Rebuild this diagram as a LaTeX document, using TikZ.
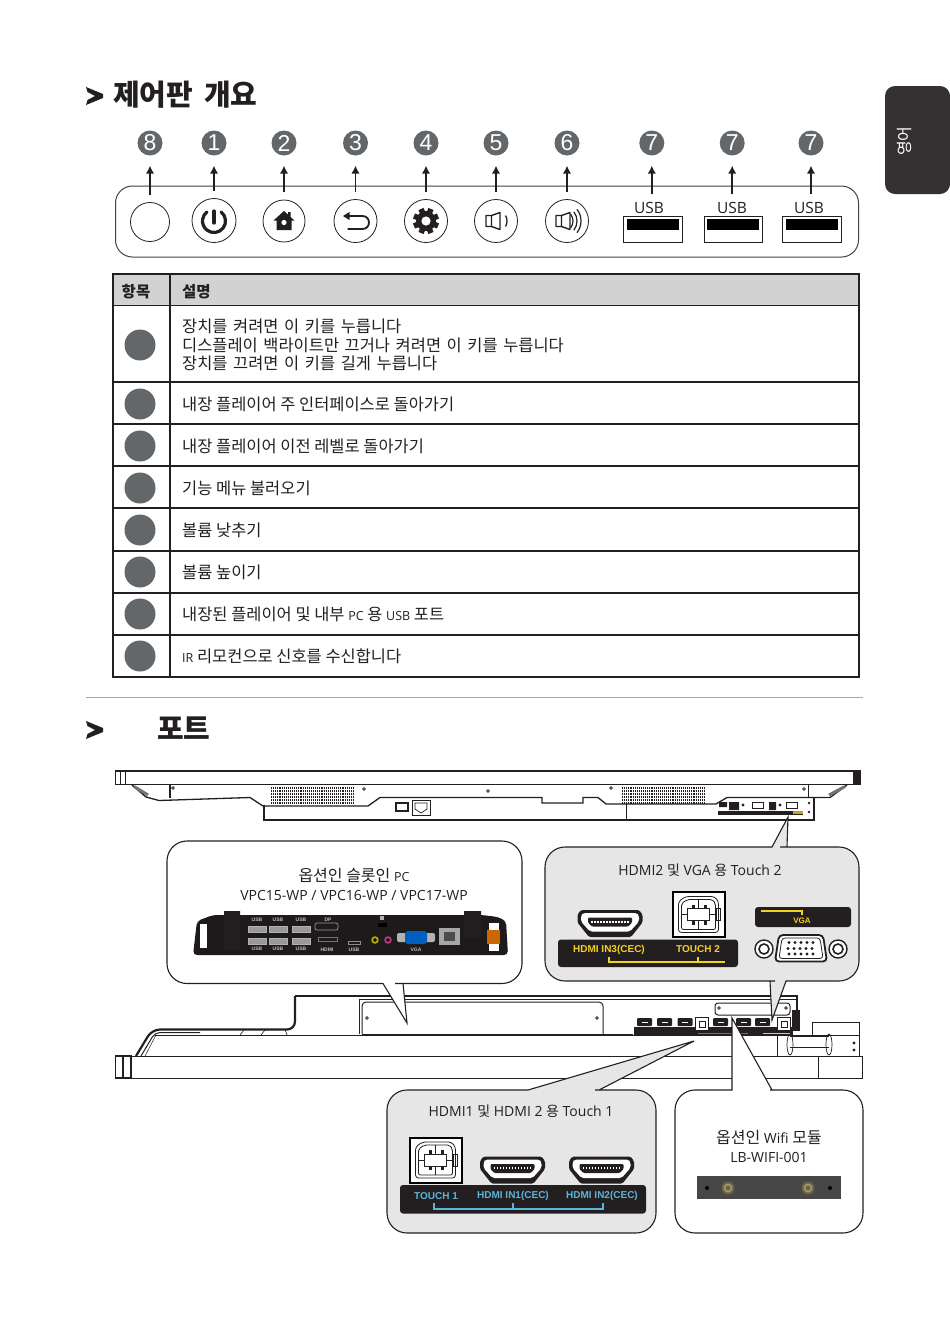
\documentclass[tikz,border=0pt]{standalone}
\usepackage{fontspec}
\setmainfont{Open Sans}
\newfontfamily\krfont{Noto Sans CJK KR}
\newfontfamily\arialfont{Liberation Sans}
\usetikzlibrary{positioning,arrows.meta}
\definecolor{inkc}{HTML}{231F20}
\definecolor{badgec}{HTML}{63676A}
\definecolor{calloutc}{HTML}{E6E6E6}
\definecolor{headc}{HTML}{D2D2D2}
\definecolor{bluec}{HTML}{5BB4DC}
\definecolor{yellowc}{HTML}{F5D11E}
\definecolor{brassA}{HTML}{6E6248}
\definecolor{brassB}{HTML}{A3956E}
\newcommand{\lat}[1]{{\normalfont\fontsize{12.5}{13}\selectfont #1}}
\newcommand{\kr}[1]{{\krfont #1}}

\tikzset{
  chevron/.pic={\fill[inkc] (0,0) -- (17,7) -- (17,11) -- (0,18) -- (1.5,13) -- (9,9) -- (1.5,5) -- cycle;},
  screw/.pic={\fill[inkc] (0,0) circle (1.8); \fill[white] (0,0) circle (0.6);},
  hdmiport/.pic={
    \fill[inkc, rounded corners=1.5] (-29,-13.5) -- (29,-13.5) -- (32.5,-9) -- (32.5,-1) -- (21,13.5) -- (-21,13.5) -- (-32.5,-1) -- (-32.5,-9) -- cycle;
    \fill[white, rounded corners=2] (-27,-10.5) -- (27,-10.5) -- (29,-8) -- (29,-2) -- (20,8) -- (-20,8) -- (-29,-2) -- (-29,-8) -- cycle;
    \fill[inkc, rounded corners=1] (-22,-6) -- (22,-6) -- (22,-1) -- (18,3) -- (-18,3) -- (-22,-1) -- cycle;
    \foreach \i in {-18,-15,...,18} \fill[white] (\i-0.6,-2.6) rectangle (\i+0.6,-0.8);
  },
  usbport/.pic={
    \draw[white, fill=white] (-26,-22.5) rectangle (26,22.5);
    \draw[black, line width=2] (-26,-22.5) rectangle (26,22.5);
    \draw[inkc, line width=.8, rounded corners=3] (-13,-18) -- (16,-18) -- (20,-13) -- (20,18) -- (-20,18) -- (-20,-13) -- cycle;
    \draw[inkc, line width=.8, rounded corners=2] (-11,-15) -- (14,-15) -- (17,-11) -- (17,15) -- (-17,15) -- (-17,-11) -- cycle;
    \draw[inkc, line width=.8] (0,-15) -- (0,15) (-17,0) -- (17,0);
    \fill[white, draw=inkc, line width=.9] (-11,-6) rectangle (11,6);
    \foreach \i in {-7,5} {\fill[inkc] (\i,-10) rectangle (\i+3.5,-6); \fill[inkc] (\i,6) rectangle (\i+3.5,10);}
    \draw[inkc, line width=.6] (18,-6) rectangle (22,6);
  },
  vgaport/.pic={
    \draw[inkc, line width=1.4, fill=white] (-37,0) circle (9);
    \draw[inkc, line width=1.4, fill=white] (37,0) circle (9);
    \draw[inkc, line width=1.6, fill=white] (-37,0) circle (5) (37,0) circle (5);
    \draw[inkc, line width=1.8, fill=white, rounded corners=4] (-22,-14) -- (22,-14) -- (26,12.5) -- (-26,12.5) -- cycle;
    \draw[inkc, line width=.8, rounded corners=3] (-19,-11) -- (19,-11) -- (22,9.5) -- (-22,9.5) -- cycle;
    \foreach \i in {-12,-6,...,12} {\fill[inkc] (\i,-6.5) circle (1.7); \fill[inkc] (\i-1,-0.5) circle (1.7); \fill[inkc] (\i,5) circle (1.7);}
  },
  miniport/.pic={\fill[inkc, rounded corners=1] (-7.5,-3) rectangle (7.5,5); \fill[white] (-3,1) rectangle (3,1.8);},
  miniusb/.pic={\draw[inkc, line width=1.1, fill=white] (-6.5,-6.5) rectangle (6.5,7); \draw[inkc, line width=.7] (-3,-3) rectangle (3,3);},
  homeicon/.pic={
    \fill[inkc] (0,-10) -- (4,-6.5) -- (4,-9) -- (6.5,-9) -- (6.5,-4) -- (10.5,-0.5) -- (7.5,-0.5) -- (7.5,9) -- (-7.5,9) -- (-7.5,-0.5) -- (-10.5,-0.5) -- cycle;
    \fill[white] (0,1.5) circle (2.6);
  },
  backicon/.pic={
    \draw[inkc, line width=1.8] (-9,-5) -- (7,-5) to[out=0,in=0,looseness=1.7] (7,8) -- (-8,8);
    \fill[inkc] (-12.5,-5) -- (-6,-9) -- (-6,-1) -- cycle;
  },
  gearicon/.pic={
    \foreach \a in {22.5,67.5,...,337.5} \draw[inkc, line width=5.5] (\a:7) -- (\a:13);
    \fill[inkc] (0,0) circle (10);
    \fill[white] (0,0) circle (4.6);
  },
  speakericon/.pic={
    \draw[inkc, line width=1.4, line join=round] (-10,-5.5) rectangle (-4.5,5.5) (-4.5,-5.5) -- (4,-8.5) -- (4,8.5) -- (-4.5,5.5);
  }
}

\begin{document}
\begin{tikzpicture}[>={Latex[length=8pt,width=8.5pt]}, x=1pt, y=-1pt]
  \tikzstyle{btn}=[draw=inkc, circle, line width=.8pt, fill=white, inner sep=0pt]
  \tikzstyle{badge}=[circle, fill=badgec, text=white, minimum size=25pt, inner sep=0pt, font=\arialfont\fontsize{23}{23}\selectfont]
  \tikzstyle{tickarrow}=[->, inkc, line width=1.5pt, shorten <=7.5pt, shorten >=10pt]
  \tikzstyle{usblabel}=[inner sep=0pt, text=inkc, font=\normalfont\fontsize{15.5}{15.5}\selectfont]
  \tikzstyle{usbslot}=[draw=inkc, line width=.9pt, minimum width=58.5pt, minimum height=26pt, inner sep=0pt]
  \tikzstyle{title}=[anchor=west, inner sep=0pt, text=inkc, font=\krfont\bfseries\fontsize{29}{29}\selectfont]
  \tikzstyle{rowtext}=[anchor=west, align=left, inner sep=0pt, text=inkc, font=\krfont\fontsize{16.45}{18.6}\selectfont]
  \tikzstyle{rowdot}=[circle, fill=badgec, minimum size=31pt, inner sep=0pt]
  \tikzstyle{caption}=[align=center, inner sep=0pt, text=inkc, font=\normalfont\fontsize{14}{19}\selectfont]
  \tikzstyle{panel}=[draw=inkc, line width=1.1pt, rounded corners=20pt]
  \tikzstyle{strip}=[fill=inkc, rounded corners=3pt]
  \tikzstyle{stripblue}=[text=bluec, inner sep=0pt, font=\arialfont\bfseries\fontsize{10}{10}\selectfont]
  \tikzstyle{stripyellow}=[text=yellowc, inner sep=0pt, font=\arialfont\bfseries\fontsize{10}{10}\selectfont]
  \tikzstyle{tiny}=[text=white!75!black, inner sep=0pt, font=\arialfont\bfseries\fontsize{5}{5}\selectfont]
  \tikzstyle{outline}=[inkc, line width=1pt]
  \tikzstyle{heavy}=[inkc, line width=2.2pt]
  \useasboundingbox (0,0) rectangle (950,1326);

  % side tab and headings
  \fill[inkc!92!white, rounded corners=10pt] (885,86) rectangle (950,194);
  \node[rotate=90, text=white, inner sep=0pt, font=\krfont\fontsize{16}{16}\selectfont] (tabtext) at (905,141) {영어};
  \pic at (86,87) {chevron};
  \node[title] (headA) at (113,95) {\spaceskip=11pt 제어판 개요};
  \pic at (86,721) {chevron};
  \node[title] (headB) at (157,728) {포트};
  \draw[black!35, line width=1pt] (86,697) -- (863,697);

  % control panel
  \draw[inkc!85, line width=1pt, rounded corners=17pt] (115.5,186) rectangle (858.5,257);
  \foreach \x/\y/\r/\name/\num in {150/222/19.5/btnIR/8, 214/220.5/22/btnPower/1, 284/221/21/btnHome/2,
      355.5/221/21.5/btnBack/3, 426/221/21.5/btnGear/4, 496/221/21.5/btnDown/5, 567/221/21.5/btnUp/6} {
    \node[btn, minimum size=2*\r] (\name) at (\x,\y) {};
    \node[badge] (no\name) at (\x,143) {\num};
    \draw[tickarrow] (\name.north) -- (no\name.south);
  }
  \draw[inkc, line width=3.2pt, line cap=round] (214,211) -- (214,223);
  \draw[inkc, line width=3.2pt, line cap=round] (214,221) ++(-52:11.5) arc (-52:232:11.5);
  \pic at (284,221) {homeicon};
  \pic at (355.5,221) {backicon};
  \pic at (426,221) {gearicon};
  \pic at (496,221) {speakericon};
  \draw[inkc, line width=1.3pt] (496,221) ++(-30:11) arc (-30:30:11);
  \pic at (566,221) {speakericon};
  \draw[inkc, line width=1.2pt] (562,221) ++(-38:11) arc (-38:38:11);
  \draw[inkc, line width=1.2pt] (562,221) ++(-38:15) arc (-38:38:15);
  \draw[inkc, line width=1.2pt] (562,221) ++(-38:19) arc (-38:38:19);
  \foreach \x/\name/\slotx in {649/usbA/652.8, 732/usbB/733.2, 809/usbC/812} {
    \node[usblabel] (\name) at (\x,207.5) {USB};
    \node[usbslot] (slot\name) at (\slotx,229.5) {};
    \fill[black] (\slotx-26,219) rectangle (\slotx+26,230);
    \node[badge] (no\name) at (\slotx-1,143) {7};
    \draw[tickarrow, shorten <=0pt] (no\name.south |- \name.north) ++(0,-8) -- (no\name.south);
  }

  % table
  \fill[headc] (113,274) rectangle (859,305.5);
  \foreach \y in {274,305.5,382,424,466,508,551,593,635,677}
    \draw[inkc, line width=1.4pt] (113,\y) -- (859,\y);
  \draw[inkc, line width=1.4pt] (113,273.3) -- (113,677.7) (170,273.3) -- (170,677.7) (859,273.3) -- (859,677.7);
  \node[inner sep=0pt, text=inkc, font=\krfont\bfseries\fontsize{15.5}{15.5}\selectfont] (colA) at (136,292) {항목};
  \node[anchor=west, inner sep=0pt, text=inkc, font=\krfont\bfseries\fontsize{15.5}{15.5}\selectfont] (colB) at (182,292) {설명};
  \foreach \y/\name/\txt in {345/rowA/{\spaceskip=5.6pt 장치를 켜려면 이 키를 누릅니다\\\spaceskip=5.6pt 디스플레이 백라이트만 끄거나 켜려면 이 키를 누릅니다\\\spaceskip=5.6pt 장치를 끄려면 이 키를 길게 누릅니다},
      404/rowB/{내장 플레이어 주 인터페이스로 돌아가기}, 446/rowC/{내장 플레이어 이전 레벨로 돌아가기},
      488/rowD/{기능 메뉴 불러오기}, 530/rowE/{볼륨 낮추기}, 572/rowF/{볼륨 높이기},
      614/rowG/{내장된 플레이어 및 내부 \lat{PC} 용 \lat{USB} 포트}, 656/rowH/{\lat{IR} 리모컨으로 신호를 수신합니다}} {
    \node[rowdot] (dot\name) at (140,\y) {};
    \node[rowtext] (\name) at (182,\y) {\txt};
  }

  % monitor seen from above
  \draw[heavy] (115,771) -- (861,771);
  \draw[outline] (125,784.5) -- (861,784.5);
  \draw[heavy, line width=1.4pt] (115.5,771) rectangle (125.5,784.5) (120.5,771) -- (120.5,784.5);
  \fill[inkc] (853,771) rectangle (860.5,784);
  \draw[heavy, line width=1.3pt] (132,785) -- (146,797) -- (159,800.5) -- (250,797.5) -- (263,806);
  \draw[heavy, line width=1.3pt] (170,784.5) -- (170,797.5);
  \draw[heavy, line width=1.5pt] (264,805) -- (264,820) -- (814,820) -- (814,797.5);
  \draw[heavy, line width=1.3pt] (263,806) -- (368,806) -- (380,797.5) -- (542,797.5) -- (542,803) -- (583,803) -- (583,797.5) -- (598,797.5) -- (606,804) -- (716,804) -- (727,797.5) -- (830,797.5) -- (847,785);
  \draw[outline] (626,804) -- (626,820) (808,784.5) -- (808,797.5);
  \foreach \x in {271,622} \foreach \y in {788,791,...,803}
    \draw[inkc, line width=1.5pt, dash pattern=on 1.1pt off 1pt] (\x,\y) -- (\x+82,\y);
  \draw[black!55, line width=3pt] (134,786.5) -- (148,795);
  \draw[black!55, line width=3pt] (845,786.5) -- (829,795);
  \foreach \x/\y in {173/788, 364/789, 488/791, 611/788, 804/789} \pic at (\x,\y) {screw};
  \draw[inkc, line width=2pt, fill=white] (396,803) rectangle (408,810.5);
  \draw[inkc, line width=1pt] (412,800.5) rectangle (430,815);
  \draw[inkc, line width=.7pt] (415,803) -- (427,803) -- (427,809) -- (421,813) -- (415,809) -- cycle;
  \fill[inkc] (719,802) rectangle (727,807) (729,802) rectangle (739,810) (769,802) rectangle (776,810);
  \fill[inkc] (718,810.5) rectangle (803,815);
  \fill[yellowc!80!black] (793,811) rectangle (803,814);
  \draw[inkc, line width=1pt] (752,802.5) rectangle (763,808) (786,802.5) rectangle (797,808);
  \fill[inkc] (743,805) circle (1.6) (780,805) circle (1.6) (809,803) circle (1.3) (809,812) circle (1.3);

  % monitor seen from below
  \draw[outline] (115.5,1056) -- (777,1056) (115.5,1078) -- (862,1078);
  \draw[heavy, line width=1.5pt] (115.5,1056) rectangle (131,1078) (123,1056) -- (123,1078);
  \draw[heavy, rounded corners=8pt] (136,1056) -- (152,1029.5) -- (295,1029.5) -- (295,996);
  \draw[heavy] (295,996) -- (797,996) -- (797,1025);
  \draw[outline, rounded corners=5pt] (141,1056) -- (155,1032.5) -- (200,1032.5);
  \draw[inkc, line width=.5pt] (145,1056) -- (156,1035);
  \draw[outline] (155,1035) -- (777,1035);
  \draw[inkc, line width=.6pt] (240,1035) -- (244,1030) (261,1035) -- (265,1030) -- (285,1029.5) -- (287,1035);
  \draw[outline] (359,1034) -- (359,999) -- (797,999);
  \draw[outline, rounded corners=4pt] (362,1034) -- (362,1002) -- (603,1002) -- (603,1034);
  \draw[heavy, line width=1.8pt] (362,1034.5) -- (633,1034.5);
  \foreach \x/\y in {367/1018, 597/1018} \pic at (\x,\y) {screw};
  \fill[inkc] (634,1027) rectangle (793,1035);
  \foreach \x in {644.5,664.5,685,720.5,743.5,762.5} \pic at (\x,1021) {miniport};
  \foreach \x in {702,784} \pic at (\x,1024) {miniusb};
  \draw[bluec!70!black, line width=1pt] (698,1033.5) -- (748,1033.5);
  \draw[yellowc, line width=1pt] (763,1033) -- (790,1033);
  \draw[outline, fill=white, rounded corners=3pt] (715,1003) rectangle (790,1015);
  \foreach \x in {719,786} \pic at (\x,1008) {screw};
  \fill[inkc] (792,1010) rectangle (800,1031);
  \draw[outline] (777,1056) -- (777,1035) -- (859,1035) -- (859,1056) -- (777,1056) (812,1035) -- (812,1022) -- (859,1022) -- (859,1035);
  \draw[outline] (818,1056) rectangle (862,1078);
  \draw[inkc, line width=.7pt] (790,1036.5) -- (829,1036.5) (790,1047) -- (829,1047);
  \draw[inkc, line width=.7pt] (790,1044.5) ellipse (3 and 10.5) (829,1044.5) ellipse (3 and 10.5);
  \foreach \y in {1043,1050} \fill[inkc] (854,\y) circle (1.6);

  % callouts
  \draw[panel, fill=white] (383,983.5) -- (167,983.5) -- (167,841) -- (522,841) -- (522,983.5) -- (415,983.5) [sharp corners] -- (403,983.5) -- (407,1023) -- cycle;
  \draw[panel, fill=calloutc] (772,847) -- (545,847) -- (545,981) -- (755,981) [sharp corners] -- (770,981) -- (772,1020) -- (786,981) -- (800,981) [rounded corners=20pt] -- (859,981) -- (859,847) -- (800,847) [sharp corners] -- (787,847) -- (788,817) -- cycle;
  \draw[panel, fill=calloutc] (528,1090) -- (387,1090) -- (387,1233) -- (656,1233) -- (656,1090) -- (615,1090) [sharp corners] -- (599,1090) -- (694,1041) -- cycle;
  \draw[panel, fill=white] (732,1090) -- (675,1090) -- (675,1233) -- (863,1233) -- (863,1090) -- (790,1090) [sharp corners] -- (772,1090) -- (732,1018) -- cycle;

  % optional pc
  \node[caption] (capPC) at (354,884) {\kr{\fontsize{16}{19}\selectfont 옵션인 슬롯인} \lat{PC}\\VPC15-WP / VPC16-WP / VPC17-WP};
  \fill[inkc!85!black, rounded corners=4pt] (193,955) -- (197,921) -- (213,915) -- (482,915) -- (498,917) -- (506,921) -- (508,955) -- cycle;
  \fill[white] (200,924) rectangle (207,948);
  \fill[inkc] (224,911) rectangle (240,950) (464,911) rectangle (481,937);
  \fill[white] (489,923) rectangle (499,951);
  \fill[orange!80!black] (487,930) rectangle (500,944);
  \foreach \x in {257,278,301} {
    \foreach \y in {926,938} \draw[white!70!black, line width=.6pt, fill=black!40] (\x-9,\y) rectangle (\x+9,\y+6.5);
    \node[tiny] (pcUsbT\x) at (\x,920) {USB};
    \node[tiny] (pcUsbB\x) at (\x,949) {USB};
  }
  \node[tiny] (pcDP) at (328,920) {DP};
  \node[tiny] (pcHdmi) at (327,949.5) {HDMI};
  \node[tiny] (pcUsbC) at (354,949.5) {USB};
  \node[tiny] (pcVga) at (416,949.5) {VGA};
  \draw[white!60!black, line width=.7pt, rounded corners=2pt] (315,923) rectangle (338,930);
  \draw[white!45!black, line width=.7pt] (318,937) rectangle (337,941);
  \draw[white!55!black, line width=.7pt] (348,941) rectangle (360,944);
  \fill[black] (378,923) rectangle (387,927);
  \fill[white!70!black] (380,916) rectangle (383.5,920);
  \fill[olive!70!yellow] (375,940) circle (3.8);
  \fill[black] (375,940) circle (1.8);
  \fill[magenta!70!black] (388,940) circle (3.8);
  \fill[black] (388,940) circle (1.8);
  \fill[white!70!black, rounded corners=2pt] (397,933) rectangle (435,942);
  \fill[blue!50!cyan!75!black, rounded corners=3pt] (405,931) rectangle (427,944);
  \fill[white!65!black] (439,928) rectangle (460,945);
  \fill[white!30!black] (444,932) rectangle (455,941);

  % hdmi2 and vga
  \node[caption] (capB) at (700,870) {HDMI2 \kr{및} VGA \kr{용} Touch 2};
  \pic at (610,923.5) {hdmiport};
  \pic at (698.5,914.5) {usbport};
  \fill[strip] (558,939.5) rectangle (738,967);
  \node[stripyellow] (lblIn3) at (609,949.5) {HDMI IN3(CEC)};
  \node[stripyellow] (lblT2) at (698,949.5) {TOUCH 2};
  \draw[yellowc, line width=1.1pt] (609,956.5) -- (609,962) -- (725,962) (698,956.5) -- (698,962);
  \fill[strip] (755,907) rectangle (851,927);
  \draw[yellowc, line width=1.1pt] (761,911) -- (802,911) -- (802,915);
  \node[stripyellow, font=\arialfont\bfseries\fontsize{8}{8}\selectfont] (lblVga) at (802,920.5) {VGA};
  \pic at (801,949) {vgaport};

  % hdmi1 and touch1
  \node[caption] (capC) at (521,1111) {HDMI1 \kr{및} HDMI 2 \kr{용} Touch 1};
  \pic at (435.5,1160) {usbport};
  \pic at (512.5,1170) {hdmiport};
  \pic at (601.5,1170) {hdmiport};
  \fill[strip] (400,1185) rectangle (646,1213.5);
  \node[stripblue] (lblT1) at (436,1196) {TOUCH 1};
  \node[stripblue] (lblIn1) at (513,1196) {HDMI IN1(CEC)};
  \node[stripblue] (lblIn2) at (602,1196) {HDMI IN2(CEC)};
  \draw[bluec, line width=1.1pt] (434,1203) -- (434,1209) -- (603,1209) -- (603,1203) (513,1203) -- (513,1209);

  % wifi module
  \node[caption] (capD) at (769,1146.5) {\kr{\fontsize{16}{19}\selectfont 옵션인} \fontsize{14}{19}\selectfont Wifi \kr{\fontsize{16}{19}\selectfont 모듈}\\LB-WIFI-001};
  \fill[black!72] (697,1176) rectangle (841,1199);
  \foreach \x in {707,830} \fill[black] (\x,1188) circle (2);
  \foreach \x in {728,808} {
    \fill[brassA] (\x,1188) circle (6.5);
    \fill[brassB] (\x,1188) circle (4.5);
    \fill[brassA] (\x,1188) circle (2.5);
  }
\end{tikzpicture}
\end{document}
